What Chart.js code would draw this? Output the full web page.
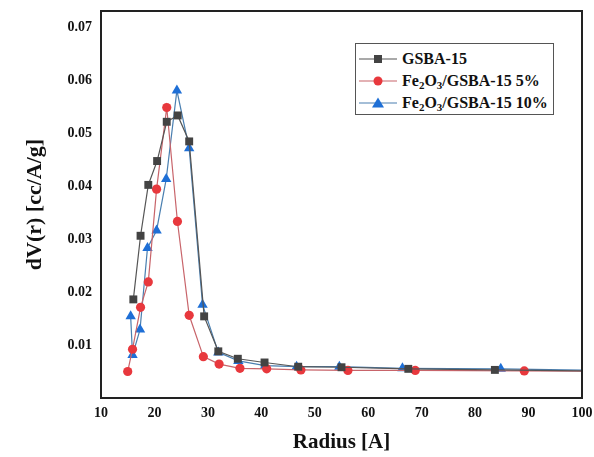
<!DOCTYPE html>
<html>
<head>
<meta charset="utf-8">
<script src="https://cdn.jsdelivr.net/npm/chart.js@4"></script>
<style>
  body { margin: 0; background: #fff; }
  #wrap { position: relative; width: 594px; height: 457px; }
  #legendBox {
    position: absolute; left: 355px; top: 43px; width: 199px; height: 72px;
    border: 1.5px solid #555; background: #fff;
    font-family: "Liberation Serif", "Times New Roman", serif; font-weight: bold; font-size: 16px; color: #111;
    padding-top: 4px; box-sizing: border-box;
  }
  .row { display: flex; align-items: center; height: 22px; }
  .row svg { margin-left: 3px; margin-right: 5px; }
  sub { font-size: 11px; vertical-align: -3px; line-height: 0; }
</style>
</head>
<body>
<div id="wrap">
  <canvas id="psd" width="594" height="457"></canvas>
  <div id="legendBox">
    <div class="row">
      <svg width="38" height="12"><line x1="0" y1="6" x2="38" y2="6" stroke="#555" stroke-width="1.2"/><rect x="15" y="2" width="8" height="8" fill="#434343"/></svg>
      <span>GSBA-15</span>
    </div>
    <div class="row">
      <svg width="38" height="12"><line x1="0" y1="6" x2="38" y2="6" stroke="#c8646a" stroke-width="1.2"/><circle cx="19" cy="6" r="4.5" fill="#e8383d"/></svg>
      <span>Fe<sub>2</sub>O<sub>3</sub>/GSBA-15 5%</span>
    </div>
    <div class="row">
      <svg width="38" height="12"><line x1="0" y1="6" x2="38" y2="6" stroke="#4a7fb0" stroke-width="1.2"/><polygon points="19,0.5 25,10.5 13,10.5" fill="#1e6fd6"/></svg>
      <span>Fe<sub>2</sub>O<sub>3</sub>/GSBA-15 10%</span>
    </div>
  </div>
</div>
<script>
// pore size distribution values
const seriesNames = ['GSBA-15', 'Fe2O3/GSBA-15 5%', 'Fe2O3/GSBA-15 10%'];

const gsbaRadius = [16.05, 17.4, 18.85, 20.5, 22.3, 24.35, 26.5, 29.3, 31.95, 35.6, 40.6, 46.9, 55.0, 67.5, 83.7, 110];
const gsbaValues = [0.0186, 0.0306, 0.0402, 0.0447, 0.0521, 0.0533, 0.0484, 0.0154, 0.0088, 0.0074, 0.0067, 0.0059, 0.0058, 0.0055, 0.0053, 0.0050];

const fe5Radius = [15.0, 15.9, 17.4, 18.85, 20.4, 22.3, 24.3, 26.5, 29.15, 32.1, 36.0, 41.0, 47.4, 56.2, 68.8, 89.2, 110];
const fe5Values = [0.0050, 0.0092, 0.0171, 0.0219, 0.0394, 0.0548, 0.0333, 0.0156, 0.0078, 0.0064, 0.0056, 0.0055, 0.0053, 0.0052, 0.0052, 0.0051, 0.0050];

const fe10Radius = [15.55, 15.9, 17.3, 18.7, 20.4, 22.2, 24.2, 26.5, 29.0, 31.95, 35.7, 40.7, 46.6, 54.6, 66.4, 84.8, 110];
const fe10Values = [0.0154, 0.0081, 0.0129, 0.0283, 0.0316, 0.0413, 0.0580, 0.0471, 0.0176, 0.0086, 0.0070, 0.0061, 0.0059, 0.0059, 0.0056, 0.0055, 0.0051];

// axis limits and tick labels
const xMin = 10, xMax = 100;
const xTicks = [10, 20, 30, 40, 50, 60, 70, 80, 90, 100];
const yMin = 0, yMax = 0.073;
const yTicks = [0.01, 0.02, 0.03, 0.04, 0.05, 0.06, 0.07];

function toPoints(xs, ys) {
    return xs.map((x, i) => ({ x: x, y: ys[i] }));
}

const serif = '"Liberation Serif", "Times New Roman", serif';

// draws the box round the plot area
const framePlugin = {
    id: 'frame',
    afterDatasetsDraw(chart) {
        const a = chart.chartArea;
        const ctx = chart.ctx;
        ctx.save();
        ctx.lineWidth = 2;
        ctx.strokeStyle = '#222';
        ctx.strokeRect(a.left, a.top, a.right - a.left, a.bottom - a.top);
        ctx.restore();
    }
};

const ctx = document.getElementById('psd').getContext('2d');
new Chart(ctx, {
    type: 'line',
    data: {
        datasets: [
            {
                label: seriesNames[0],
                data: toPoints(gsbaRadius, gsbaValues),
                borderColor: '#555',
                borderWidth: 1.2,
                pointStyle: 'rect',
                pointRadius: 5.6,
                pointBackgroundColor: '#434343',
                pointBorderWidth: 0,
                tension: 0
            },
            {
                label: seriesNames[1],
                data: toPoints(fe5Radius, fe5Values),
                borderColor: '#c8646a',
                borderWidth: 1.2,
                pointStyle: 'circle',
                pointRadius: 4.6,
                pointBackgroundColor: '#e8383d',
                pointBorderWidth: 0,
                tension: 0
            },
            {
                label: seriesNames[2],
                data: toPoints(fe10Radius, fe10Values),
                borderColor: '#4a7fb0',
                borderWidth: 1.2,
                pointStyle: 'triangle',
                pointRadius: 6,
                pointBackgroundColor: '#1e6fd6',
                pointBorderWidth: 0,
                tension: 0
            }
        ]
    },
    options: {
        responsive: false,
        animation: false,
        layout: { padding: { top: 11, right: 12, left: 0, bottom: 0 } },
        plugins: {
            legend: { display: false },
            tooltip: { enabled: false }
        },
        scales: {
            x: {
                type: 'linear',
                min: xMin,
                max: xMax,
                grid: { display: false, drawTicks: false },
                border: { display: false },
                ticks: {
                    padding: 7,
                    color: '#111',
                    font: { family: serif, size: 14, weight: 'bold' },
                    maxRotation: 0,
                    autoSkip: false
                },
                afterBuildTicks(scale) {
                    scale.ticks = xTicks.map(v => ({ value: v }));
                },
                title: {
                    display: true,
                    text: 'Radius [A]',
                    color: '#111',
                    font: { family: serif, size: 21, weight: 'bold' },
                    padding: { top: 0, bottom: 2 }
                },
                afterFit(scale) {
                    scale.height = 59;
                    scale.paddingLeft = 0;
                    scale.paddingRight = 0;
                }
            },
            y: {
                type: 'linear',
                min: yMin,
                max: yMax,
                grid: { display: false, drawTicks: false },
                border: { display: false },
                ticks: {
                    padding: 9,
                    color: '#111',
                    font: { family: serif, size: 14, weight: 'bold' },
                    autoSkip: false,
                    callback(value) {
                        return value.toFixed(2);
                    }
                },
                afterBuildTicks(scale) {
                    scale.ticks = yTicks.map(v => ({ value: v }));
                },
                title: {
                    display: true,
                    text: 'dV(r) [cc/A/g]',
                    color: '#111',
                    font: { family: serif, size: 22, weight: 'bold' },
                    padding: { top: 22, bottom: 0 }
                },
                afterFit(scale) {
                    scale.width = 101;
                    scale.paddingTop = 0;
                    scale.paddingBottom = 0;
                }
            }
        }
    },
    plugins: [framePlugin]
});
</script>
</body>
</html>
